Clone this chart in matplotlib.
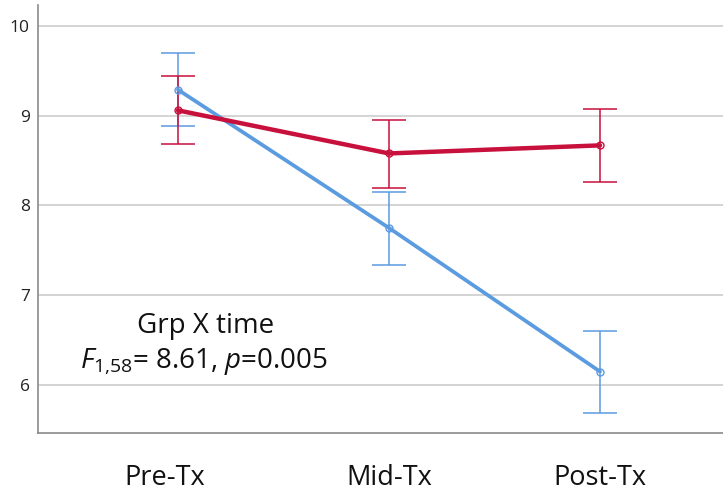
import matplotlib
matplotlib.use("Agg")
import matplotlib.pyplot as plt
import matplotlib.transforms as mtransforms

plt.rcParams['font.family'] = ['Open Sans', 'DejaVu Sans']
plt.rcParams['mathtext.fontset'] = 'custom'
plt.rcParams['mathtext.rm'] = 'Open Sans'
plt.rcParams['mathtext.it'] = 'Open Sans:italic'

categories = ["Pre-Tx", "Mid-Tx", "Post-Tx"]
blue_mean = [9.29, 7.75, 6.15]
blue_upper = [9.70, 8.15, 6.60]
blue_lower = [8.89, 7.34, 5.69]
red_mean = [9.06, 8.58, 8.67]
red_upper = [9.44, 8.95, 9.08]
red_lower = [8.69, 8.20, 8.26]
yticks = [6, 7, 8, 9, 10]

BLUE = "#5b9be0"
RED = "#c8103c"

W, H = 723, 493
fig = plt.figure(figsize=(W / 100, H / 100), dpi=100)
ax = fig.add_axes([38 / W, (H - 433) / H, (W - 38) / W, (433 - 5) / H])

x = list(range(len(categories)))

def draw(mean, lo, hi, color, lw):
    yerr = [[m - l for m, l in zip(mean, lo)], [h - m for m, h in zip(mean, hi)]]
    ax.errorbar(x, mean, yerr=yerr, fmt='none', ecolor=color, elinewidth=1.1,
                capsize=12, capthick=1.1, zorder=3)
    ax.plot(x, mean, color=color, lw=lw, zorder=4, solid_capstyle='round')
    ax.plot(x, mean, linestyle='none', marker='o', markersize=5,
            markerfacecolor='none', markeredgecolor=color, markeredgewidth=1.0, zorder=5)

draw(blue_mean, blue_lower, blue_upper, BLUE, 2.7)
draw(red_mean, red_lower, red_upper, RED, 3.2)

ax.set_xlim(-0.6635, 2.583)
ax.set_ylim(5.465, 10.234)
ax.set_yticks(yticks)
ax.set_yticklabels([str(t) for t in yticks], fontsize=12.5, color="#222222")
ax.set_xticks(x)
ax.set_xticklabels(categories, fontsize=19.5, color="#111111")
ax.tick_params(axis='y', length=0, pad=6)
ax.tick_params(axis='x', length=0, pad=22)
lab0 = ax.get_xticklabels()[0]
lab0.set_transform(lab0.get_transform() + mtransforms.ScaledTranslation(-13 / 100, 0, fig.dpi_scale_trans))

ax.grid(axis='y', color="#d4d4d4", lw=1.4, zorder=0)
ax.set_axisbelow(True)
for s in ['top', 'right']:
    ax.spines[s].set_visible(False)
for s in ['left', 'bottom']:
    ax.spines[s].set_color("#8a8a8a")
    ax.spines[s].set_linewidth(1.2)

fig.text(206 / W, 1 - 326 / H, "Grp X time", fontsize=20, ha='center', va='center', color="#111111")
fig.text(80 / W, 1 - 362 / H, r"$\mathit{F}_{\mathrm{1{,}58}}$= 8.61, $\mathit{p}$=0.005",
         fontsize=20, ha='left', va='center', color="#111111")

fig.savefig("out.png", dpi=100)
